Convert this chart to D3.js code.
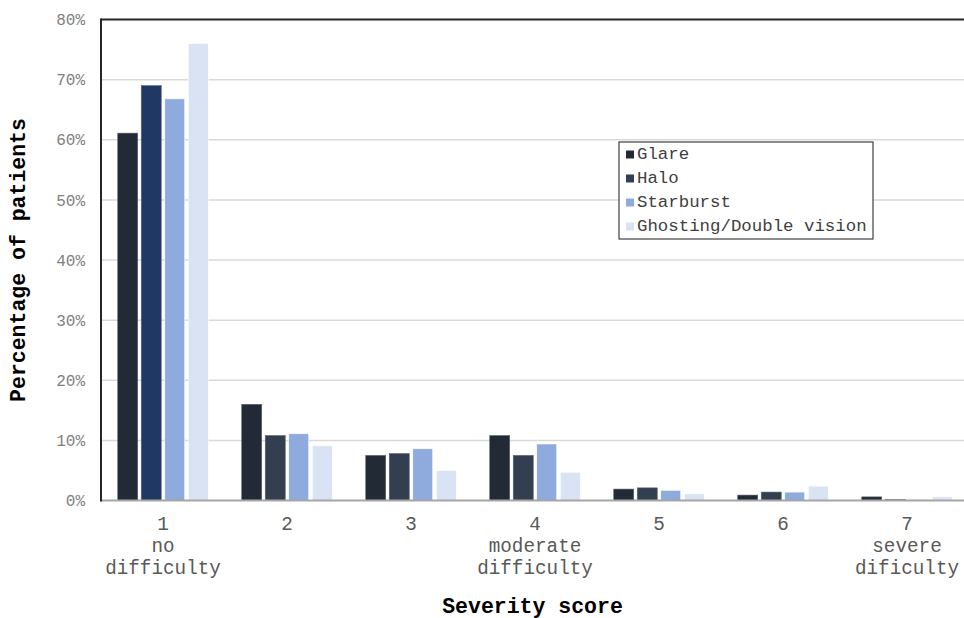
<!DOCTYPE html>
<html>
<head>
<meta charset="utf-8">
<script src="https://cdn.jsdelivr.net/npm/d3@7"></script>
<style>
  html, body { margin: 0; padding: 0; background: #fff; }
  svg { display: block; }
</style>
</head>
<body>
<svg id="chart" width="964" height="618"></svg>
<script>
// ---- data ----
const categories = ["1", "2", "3", "4", "5", "6", "7"];
const categoryNotes = [["no", "difficulty"], [], [], ["moderate", "difficulty"], [], [], ["severe", "dificulty"]];
const seriesNames = ["Glare", "Halo", "Starburst", "Ghosting/Double vision"];
const glare     = [61.1, 16.0, 7.5, 10.8, 1.9, 0.9, 0.6];
const halo      = [69.0, 10.8, 7.8, 7.5, 2.1, 1.4, 0.15];
const starburst = [66.8, 11.1, 8.6, 9.4, 1.7, 1.4, 0.15];
const ghosting  = [76.0, 9.1, 5.0, 4.7, 1.1, 2.4, 0.6];
const yTicks = [0, 10, 20, 30, 40, 50, 60, 70, 80];
const xTitle = "Severity score";
const yTitle = "Percentage of patients";

// ---- styles ----
const seriesColors = ["#222a35", "#333f50", "#8faadc", "#dae3f3"];
const highlightColor = "#1f3864"; // Halo bar of category 1 is drawn in a deeper blue
const mono = "'Liberation Mono', 'Courier New', monospace";

const seriesValues = [glare, halo, starburst, ghosting];
const rows = [];
categories.forEach((c, ci) => {
  seriesNames.forEach((s, si) => {
    rows.push({ cat: c, ci, series: s, si, value: seriesValues[si][ci] });
  });
});

const svg = d3.select("#chart");
const plotLeft = 101, plotRight = 969, plotTop = 19.5, plotBottom = 500.5;

const x0 = d3.scaleBand().domain(categories).range([plotLeft, plotRight])
  .paddingInner(0.27).paddingOuter(0.135);
const x1 = d3.scaleBand().domain(seriesNames).range([0, x0.bandwidth()])
  .paddingInner(0.15);
const y = d3.scaleLinear().domain([0, 80]).range([plotBottom, plotTop]);

// gridlines
svg.append("g").selectAll("line").data(yTicks.filter(t => t > 0 && t < 80)).join("line")
  .attr("x1", plotLeft).attr("x2", 964)
  .attr("y1", d => y(d)).attr("y2", d => y(d))
  .attr("stroke", "#d9d9d9").attr("stroke-width", 1.5);

// bars
svg.append("g").selectAll("rect").data(rows).join("rect")
  .attr("x", d => x0(d.cat) + x1(d.series))
  .attr("width", x1.bandwidth())
  .attr("y", d => y(d.value))
  .attr("height", d => y(0) - y(d.value))
  .attr("fill", d => (d.si === 1 && d.ci === 0) ? highlightColor : seriesColors[d.si])
  .attr("stroke", d => d.si >= 2 ? "#ffffff" : "#5a6070")
  .attr("stroke-width", 0.6);

// frame: top and left dark, bottom grey
svg.append("line").attr("x1", plotLeft).attr("x2", 964).attr("y1", y(80)).attr("y2", y(80))
  .attr("stroke", "#262626").attr("stroke-width", 2);
svg.append("line").attr("x1", plotLeft).attr("x2", 964).attr("y1", y(0)).attr("y2", y(0))
  .attr("stroke", "#a6a6a6").attr("stroke-width", 2);
svg.append("line").attr("x1", plotLeft).attr("x2", plotLeft).attr("y1", y(80) - 1).attr("y2", y(0) + 1)
  .attr("stroke", "#262626").attr("stroke-width", 2);

// y axis tick labels
const yAxis = d3.axisLeft(y).tickValues(yTicks).tickFormat(d => d + "%").tickSize(0).tickPadding(16);
const yg = svg.append("g").attr("transform", `translate(${plotLeft},0)`).call(yAxis);
yg.select(".domain").remove();
yg.selectAll("text").attr("font-family", mono).attr("font-size", 16).attr("fill", "#808080");

// x axis tick labels
const xAxis = d3.axisBottom(x0).tickSize(0).tickPadding(0).tickFormat("");
const xg = svg.append("g").attr("transform", `translate(0,${plotBottom})`).call(xAxis);
xg.select(".domain").remove();
xg.selectAll(".tick").each(function(d, i) {
  const lines = [d].concat(categoryNotes[i]);
  const t = d3.select(this).append("text")
    .attr("font-family", mono).attr("font-size", 19.3).attr("fill", "#595959")
    .attr("text-anchor", "middle");
  lines.forEach((ln, k) => {
    t.append("tspan").attr("x", 0).attr("y", 29.5 + k * 22).text(ln);
  });
});

// axis titles
svg.append("text").attr("x", (plotLeft + 964) / 2).attr("y", 613)
  .attr("text-anchor", "middle").attr("font-family", mono).attr("font-weight", "bold")
  .attr("font-size", 21.5).attr("fill", "#000").text(xTitle);
svg.append("text")
  .attr("transform", `translate(19,${(plotTop + plotBottom) / 2}) rotate(-90)`)
  .attr("text-anchor", "middle").attr("dominant-baseline", "central")
  .attr("font-family", mono).attr("font-weight", "bold")
  .attr("font-size", 21.5).attr("fill", "#000").text(yTitle);

// legend
const lg = svg.append("g").attr("transform", "translate(619,142)");
lg.append("rect").attr("x", 0).attr("y", 0).attr("width", 254).attr("height", 97)
  .attr("fill", "#fff").attr("stroke", "#404040").attr("stroke-width", 1.2);
seriesNames.forEach((s, i) => {
  const cy = 12 + i * 24;
  lg.append("rect").attr("x", 7).attr("y", cy - 3.5).attr("width", 8).attr("height", 8)
    .attr("fill", seriesColors[i]);
  lg.append("text").attr("x", 18).attr("y", cy).attr("dominant-baseline", "central")
    .attr("font-family", mono).attr("font-size", 17.4).attr("fill", "#404040").text(s);
});
</script>
</body>
</html>
